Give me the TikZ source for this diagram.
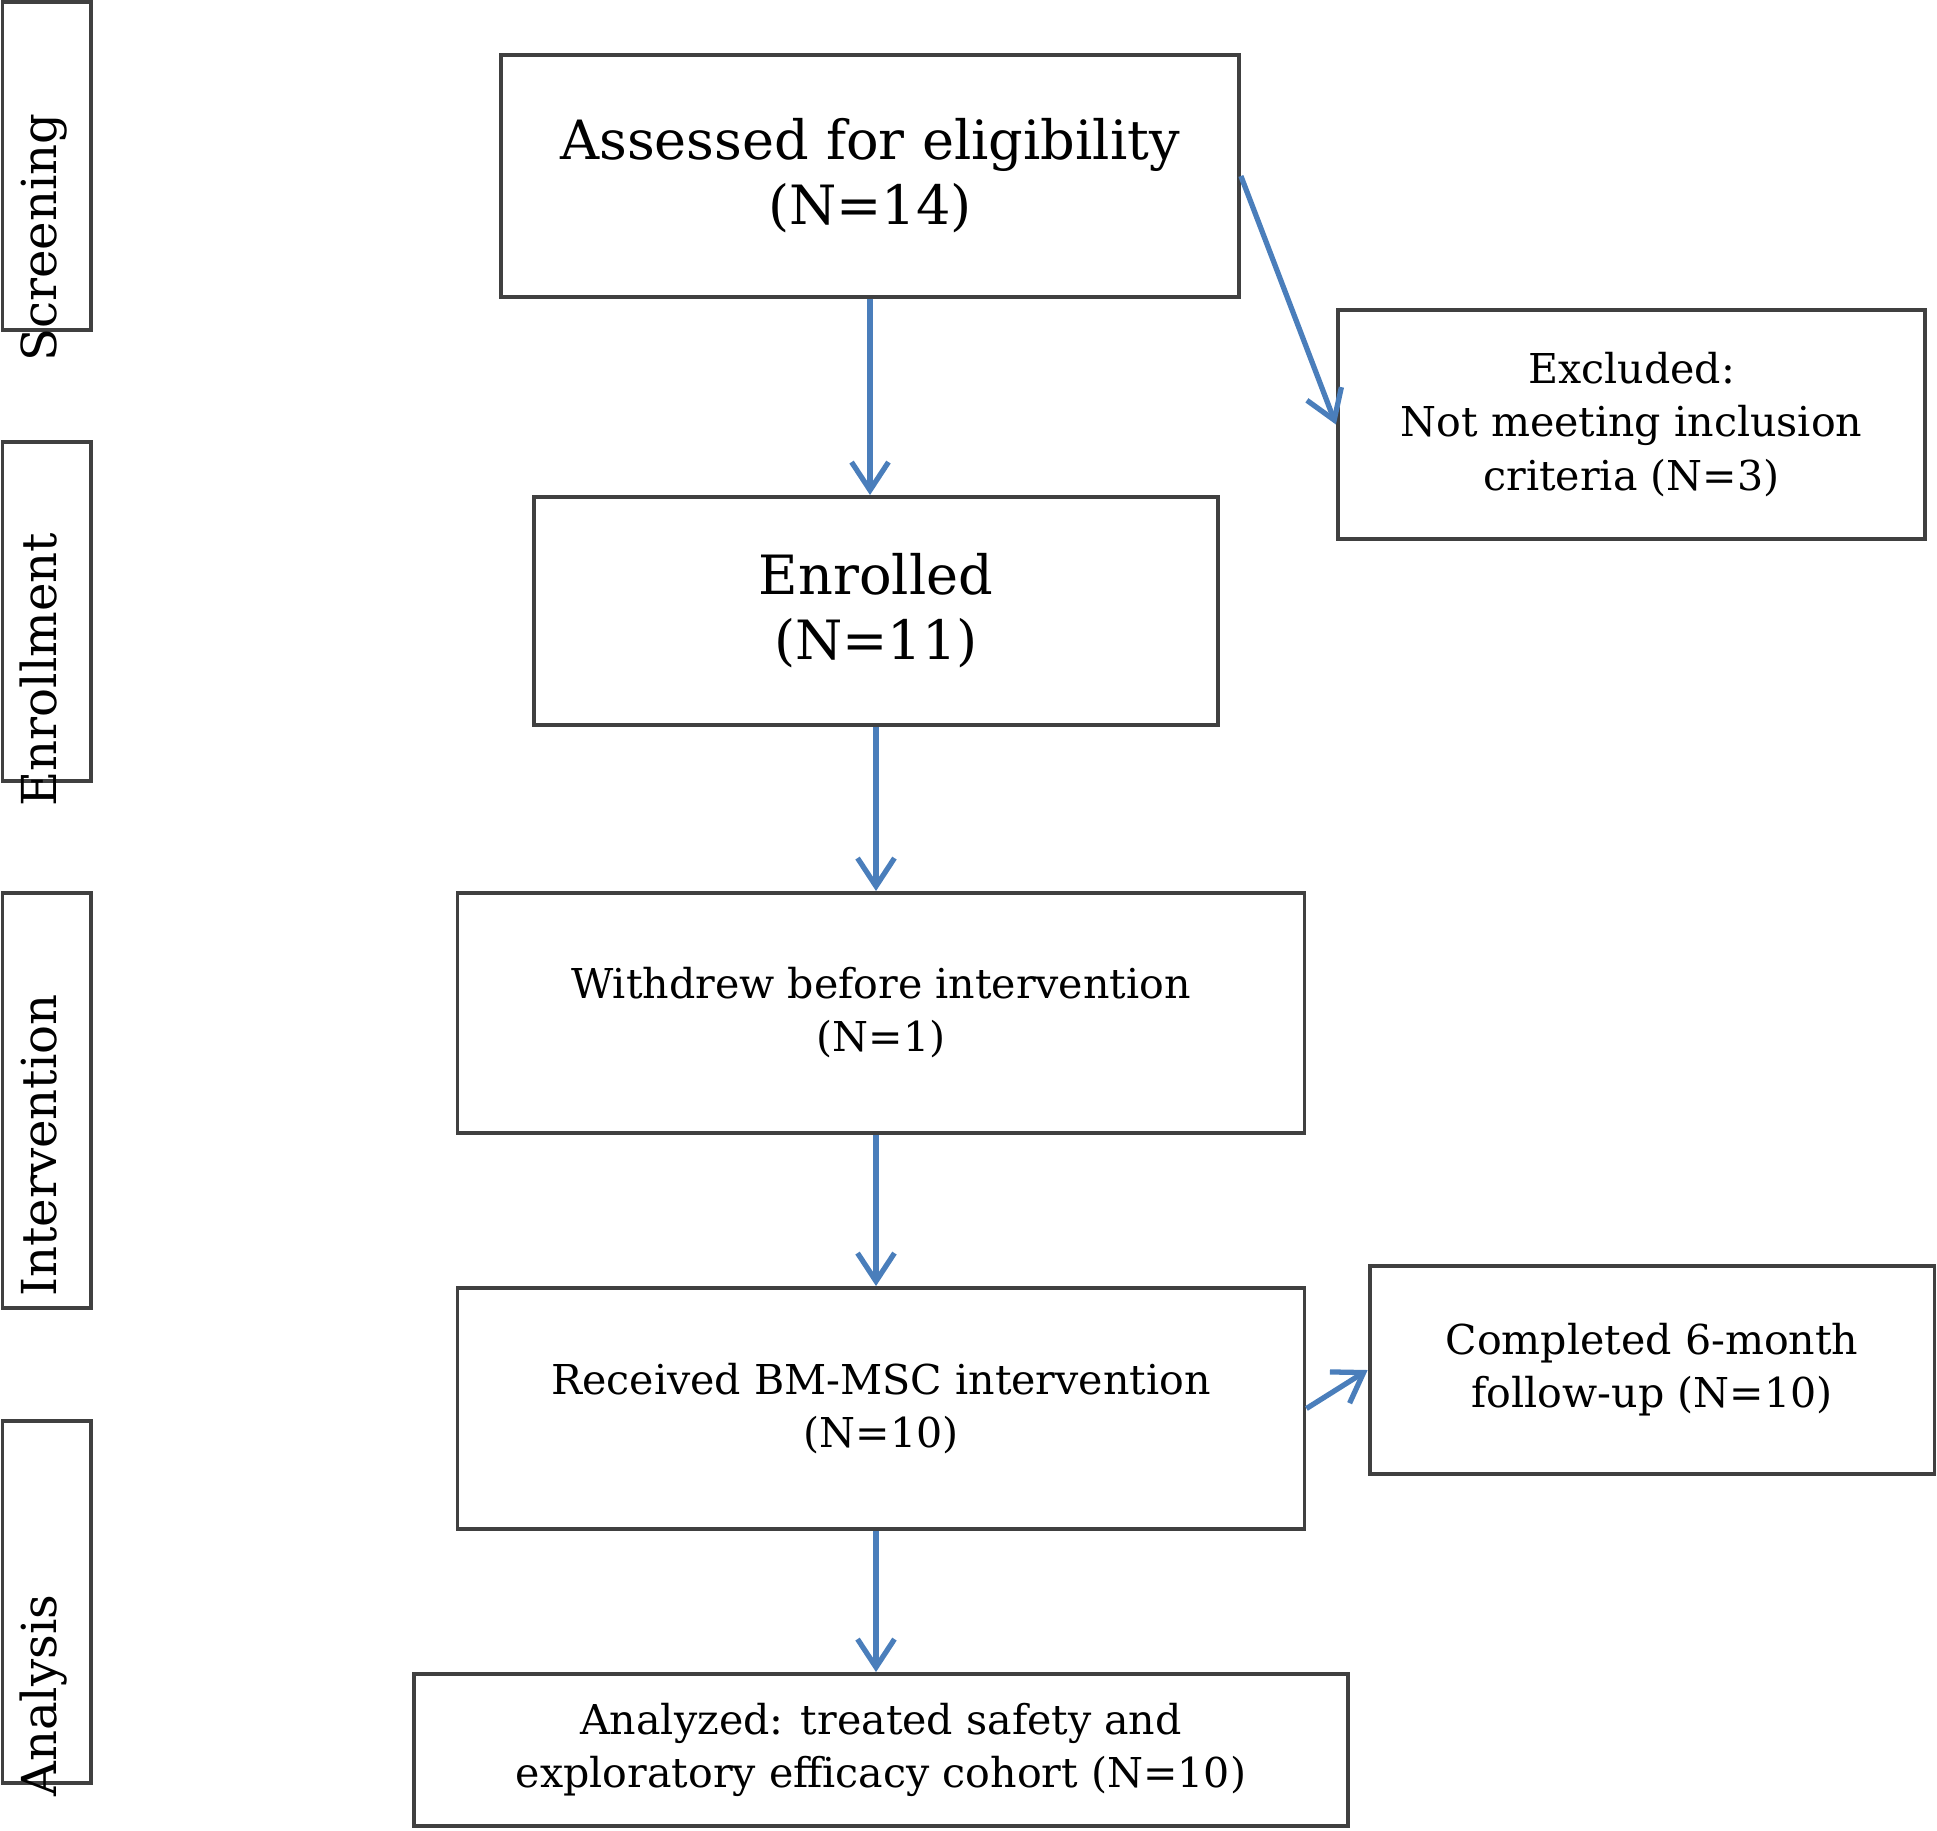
\documentclass[tikz,border=0pt]{standalone}
\usepackage{fontspec}
\setmainfont{DejaVu Serif}
\usetikzlibrary{arrows.meta}
\definecolor{boxgray}{HTML}{404040}
\definecolor{flowblue}{HTML}{4A7EBB}
\begin{document}
\begin{tikzpicture}[x=0.01cm,y=-0.01cm,
  box/.style={draw=boxgray,line width=1.1pt,inner sep=0pt,align=center},
  big/.style={font=\fontsize{15.4pt}{18.5pt}\selectfont},
  mid/.style={font=\fontsize{11.7pt}{15.1pt}\selectfont},
  phasebox/.style={draw=boxgray,line width=1.1pt,inner sep=0pt,minimum width=0.885cm},
  phasetext/.style={rotate=90,anchor=base,inner sep=0pt,font=\fontsize{13.7pt}{16pt}\selectfont},
  flow/.style={draw=flowblue,line width=1.5pt,-{Straight Barb[length=8pt,width=10.5pt]}}]
\useasboundingbox (0,0) rectangle (1937,1830);

% phase boxes
\node[phasebox,minimum height=3.275cm] (pscr) at (46.75,166) {};
\node[phasebox,minimum height=3.39cm] (penr) at (46.75,611.5) {};
\node[phasebox,minimum height=4.15cm] (pint) at (46.75,1100.5) {};
\node[phasebox,minimum height=3.62cm] (pana) at (46.75,1602) {};
\node[phasetext] (tscr) at (57,237.5) {Screening};
\node[phasetext] (tenr) at (57,669.5) {Enrollment};
\node[phasetext] (tint) at (57,1145.5) {Intervention};
\node[phasetext] (tana) at (57,1695.5) {Analysis};

% main boxes
\node[box,big,minimum width=7.375cm,minimum height=2.41cm] (assess) at (870,176) {Assessed for eligibility\\(N=14)};
\node[box,mid,minimum width=5.87cm,minimum height=2.29cm] (excl) at (1631.5,424.5) {Excluded:\\Not meeting inclusion\\criteria (N=3)};
\node[box,big,minimum width=6.84cm,minimum height=2.28cm] (enrol) at (876,611) {Enrolled\\(N=11)};
\node[box,mid,minimum width=8.465cm,minimum height=2.40cm] (withd) at (881,1013) {Withdrew before intervention\\(N=1)};
\node[box,mid,minimum width=8.465cm,minimum height=2.41cm] (recv) at (881,1408.5) {Received BM-MSC intervention\\(N=10)};
\node[box,mid,minimum width=5.645cm,minimum height=2.08cm] (compl) at (1652,1370) {Completed 6-month\\follow-up (N=10)};
\node[box,mid,minimum width=9.34cm,minimum height=1.52cm] (anal) at (881,1750) {Analyzed: treated safety and\\exploratory efficacy cohort (N=10)};

% connectors
\draw[flow] (assess.south) -- (assess.south |- enrol.north);
\draw[flow] (assess.east) -- (excl.west);
\draw[flow] (enrol.south) -- (enrol.south |- withd.north);
\draw[flow] ([xshift=-0.05cm]withd.south) -- ([xshift=-0.05cm]withd.south |- recv.north);
\draw[flow] ([xshift=-0.05cm]recv.south) -- ([xshift=-0.05cm]recv.south |- anal.north);
\draw[flow] (recv.east) -- (compl.west);
\end{tikzpicture}
\end{document}
